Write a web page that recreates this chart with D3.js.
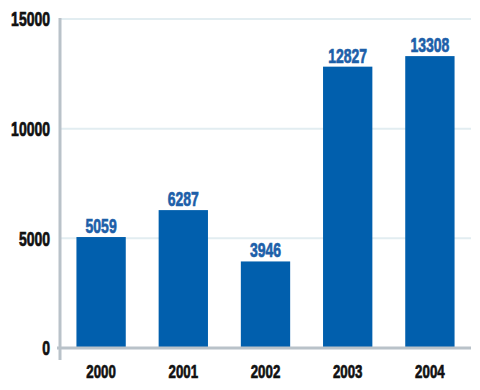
<!DOCTYPE html>
<html>
<head>
<meta charset="utf-8">
<script src="https://cdn.jsdelivr.net/npm/d3@7"></script>
<style>
  body { margin: 0; background: #fff; }
  text { font-family: "Liberation Sans", Arial, sans-serif; font-weight: bold; stroke-width: 0.7px; }
</style>
</head>
<body>
<div id="vis"></div>
<script>
var years = ["2000", "2001", "2002", "2003", "2004"];
var values = [5059, 6287, 3946, 12827, 13308];
var yTicks = [0, 5000, 10000, 15000];

var width = 480,
    height = 390;

var plotLeft = 60, plotRight = 471, plotTop = 19, plotBottom = 348;
var squeeze = 0.7; // condensed look

var svg = d3.select('#vis').append('svg')
    .attr("width", width)
    .attr("height", height);

var x = d3.scaleBand()
    .domain(years)
    .range([plotLeft, plotRight])
    .paddingInner(0.4)
    .paddingOuter(0.2);

var y = d3.scaleLinear()
    .domain([0, 15000])
    .range([plotBottom, plotTop]);

function place(px, py) {
    return "translate(" + px + "," + py + ") scale(" + squeeze + ",1)";
}

// gridlines
svg.selectAll('line.grid')
    .data(yTicks.filter(function(d) { return d > 0; }))
    .enter()
    .append('line')
    .attr('class', 'grid')
    .attr('x1', plotLeft)
    .attr('x2', plotRight)
    .attr('y1', function(d) { return y(d); })
    .attr('y2', function(d) { return y(d); })
    .attr('stroke', '#e2edf1')
    .attr('stroke-width', 2);

// y tick labels
svg.selectAll('text.ytick')
    .data(yTicks)
    .enter()
    .append('text')
    .attr('class', 'ytick')
    .attr('transform', function(d) { return place(50, y(d)); })
    .attr('dy', '0.36em')
    .attr('text-anchor', 'end')
    .attr('font-size', 20)
    .attr('fill', '#111')
    .attr('stroke', '#111')
    .text(function(d) { return d; });

// bars
svg.selectAll('rect.bar')
    .data(values)
    .enter()
    .append('rect')
    .attr('class', 'bar')
    .attr('x', function(d, i) { return x(years[i]); })
    .attr('width', x.bandwidth())
    .attr('y', function(d) { return y(d); })
    .attr('height', function(d) { return plotBottom - y(d); })
    .attr('fill', '#015fad');

// value labels
svg.selectAll('text.val')
    .data(values)
    .enter()
    .append('text')
    .attr('class', 'val')
    .attr('transform', function(d, i) { return place(x(years[i]) + x.bandwidth() / 2, y(d) - 4); })
    .attr('text-anchor', 'middle')
    .attr('font-size', 20)
    .attr('fill', '#1d5fa9')
    .attr('stroke', '#1d5fa9')
    .text(function(d) { return d; });

// axis lines
svg.append('line')
    .attr('x1', plotLeft).attr('x2', plotLeft)
    .attr('y1', plotTop - 1).attr('y2', 360)
    .attr('stroke', '#b9c2c9')
    .attr('stroke-width', 3);

svg.append('line')
    .attr('x1', plotLeft - 3).attr('x2', plotRight)
    .attr('y1', plotBottom).attr('y2', plotBottom)
    .attr('stroke', '#b9c2c9')
    .attr('stroke-width', 3);

// x labels
svg.selectAll('text.xlab')
    .data(years)
    .enter()
    .append('text')
    .attr('class', 'xlab')
    .attr('transform', function(d) { return place(x(d) + x.bandwidth() / 2, 378); })
    .attr('text-anchor', 'middle')
    .attr('font-size', 19)
    .attr('fill', '#111')
    .attr('stroke', '#111')
    .text(function(d) { return d; });
</script>
</body>
</html>
